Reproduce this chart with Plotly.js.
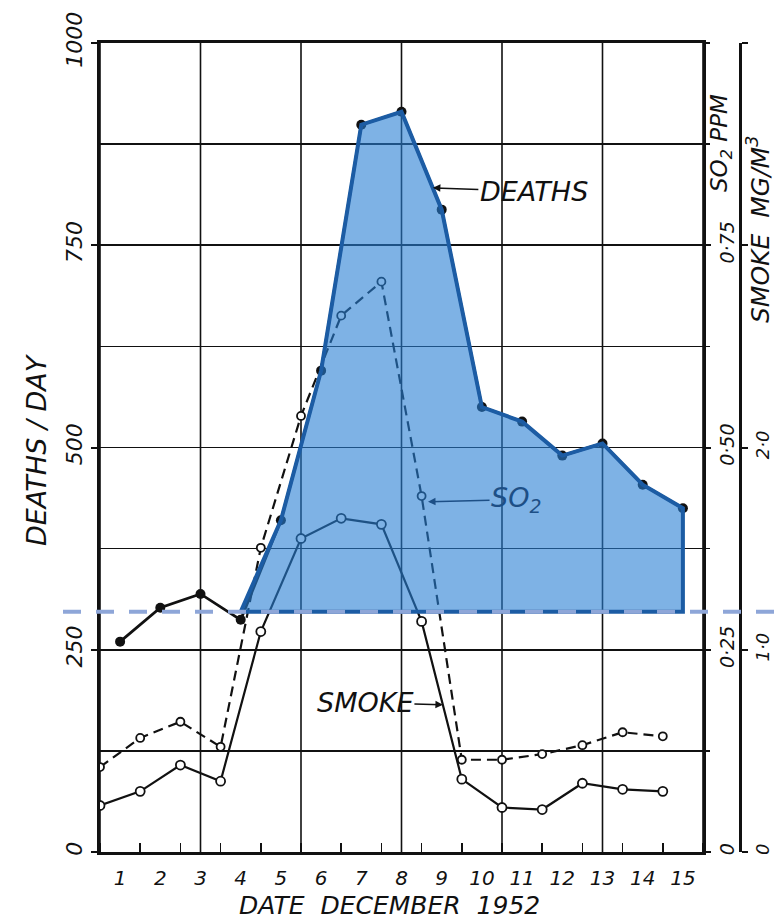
<!DOCTYPE html>
<html>
<head>
<meta charset="utf-8">
<script src="https://cdn.plot.ly/plotly-3.0.1.min.js"></script>
<style>html,body{margin:0;padding:0;background:#fff;}#chart{width:782px;height:924px;}</style>
</head>
<body>
<div id="chart"></div>
<script>
// ---- data ----
const days = [1,2,3,4,5,6,7,8,9,10,11,12,13,14,15];
const dayLabels = ['1','2','3','4','5','6','7','8','9','10','11','12','13','14','15'];
const deaths = [260, 302, 319, 287, 410, 595, 899, 915, 794, 550, 532, 490, 505, 454, 425];
const so2ppm = [0.105, 0.141, 0.161, 0.130, 0.376, 0.539, 0.663, 0.705, 0.440, 0.114, 0.114, 0.121, 0.132, 0.148, 0.143];
const smokeMg = [0.23, 0.30, 0.43, 0.35, 1.09, 1.55, 1.65, 1.62, 1.14, 0.36, 0.22, 0.21, 0.34, 0.31, 0.30];
const baselineDeaths = 297;
const gridDays = [1, 3.5, 6, 8.5, 11, 13.5, 16];
const deathTickVals = [0, 250, 500, 750, 1000];
const deathTickText = ['0', '250', '500', '750', '1000'];
const so2TickVals = [0, 0.25, 0.5, 0.75];
const so2TickText = ['0', '0·25', '0·50', '0·75'];
const smokeTickVals = [0, 1, 2];
const smokeTickText = ['0', '1·0', '2·0'];

// deaths are plotted mid-day, pollution at start of day
const deathX = days.map(d => d + 0.5);
const labelX = days.map(d => d + 0.5);

// excess-deaths polygon (from day 4 onward, above baseline)
const startIdx = 3;
const polyX = [deathX[startIdx]].concat(deathX.slice(startIdx + 1), [deathX[deathX.length - 1], deathX[startIdx]]);
const polyY = [baselineDeaths].concat(deaths.slice(startIdx + 1), [baselineDeaths, baselineDeaths]);

const FONT = 'DejaVu Sans';
const ink = '#111';
const W = 782, H = 924, L = 100, R = 20, T = 43, B = 72;
const plotW = W - L - R;            // paper width in px
const xDomEnd = 603 / plotW;        // x axis ends at the SO2 axis
const px = v => (v - L) / plotW;    // px -> paper x
const py = v => (H - B - v) / (H - T - B); // px -> paper y

const traces = [
  {x: deathX, y: deaths, xaxis: 'x', yaxis: 'y', mode: 'lines+markers',
   line: {color: ink, width: 2.8}, marker: {color: ink, size: 10, symbol: 'circle'}, hoverinfo: 'skip'},
  {x: days, y: so2ppm, xaxis: 'x', yaxis: 'y2', mode: 'lines+markers',
   line: {color: ink, width: 2.2, dash: '10px,6px'},
   marker: {color: '#fff', size: 8, symbol: 'circle', line: {color: ink, width: 1.8}}, hoverinfo: 'skip'},
  {x: days, y: smokeMg, xaxis: 'x', yaxis: 'y3', mode: 'lines+markers',
   line: {color: ink, width: 2.2},
   marker: {color: '#fff', size: 9, symbol: 'circle', line: {color: ink, width: 1.8}}, hoverinfo: 'skip'},
  {x: polyX, y: polyY, xaxis: 'x', yaxis: 'y4', mode: 'lines', fill: 'toself',
   fillcolor: 'rgba(40,126,212,0.60)', line: {color: '#1c5ca4', width: 4}, hoverinfo: 'skip'}
];

const tickFont = {family: FONT, size: 22, color: ink, style: 'italic'};
const rightTickFont = {family: FONT, size: 19, color: ink, style: 'italic'};

const shapes = gridDays.map(g => ({
  type: 'line', xref: 'x', yref: 'paper', x0: g, x1: g, y0: 0, y1: 1,
  line: {color: ink, width: 1.6}, layer: 'below'
}));
shapes.push({type: 'line', xref: 'paper', yref: 'y', x0: px(63), x1: px(782),
  y0: baselineDeaths, y1: baselineDeaths,
  line: {color: '#8ea6d8', width: 4, dash: '18px,15px'}, layer: 'above'});

const layout = {
  width: W, height: H,
  margin: {l: L, r: R, t: T, b: B},
  paper_bgcolor: '#fff', plot_bgcolor: '#fff',
  showlegend: false,
  font: {family: FONT, color: ink, style: 'italic'},
  xaxis: {
    domain: [0, xDomEnd],
    range: [1, 16], tickmode: 'array', tickvals: labelX, ticktext: dayLabels,
    ticks: '', showgrid: false, zeroline: false,
    showline: true, linecolor: ink, linewidth: 3, mirror: true,
    tickfont: {family: FONT, size: 20, color: ink, style: 'italic'}, ticklabelstandoff: 6,
    minor: {tick0: 1, dtick: 1, ticks: 'inside', ticklen: 9, tickwidth: 1.6, tickcolor: ink, showgrid: false}
  },
  yaxis: {
    range: [0, 1000], tickmode: 'array', tickvals: deathTickVals, ticktext: deathTickText,
    ticks: 'outside', ticklen: 6, tickwidth: 2, tickcolor: ink,
    tickangle: -90, tickfont: tickFont,
    showgrid: true, gridcolor: ink, gridwidth: 1.7,
    minor: {tick0: 0, dtick: 125, showgrid: true, gridcolor: ink, gridwidth: 1.7, ticks: ''},
    zeroline: false, showline: true, linecolor: ink, linewidth: 3
  },
  yaxis2: {
    overlaying: 'y', side: 'right', anchor: 'x', range: [0, 1],
    tickmode: 'array', tickvals: so2TickVals, ticktext: so2TickText,
    ticks: 'outside', ticklen: 5, tickwidth: 2, tickcolor: ink,
    tickangle: -90, tickfont: rightTickFont,
    minor: {tick0: 0, dtick: 0.125, ticks: 'outside', ticklen: 4, tickwidth: 1.5, tickcolor: ink},
    showgrid: false, zeroline: false, showline: true, linecolor: ink, linewidth: 3
  },
  yaxis3: {
    overlaying: 'y', side: 'right', anchor: 'free', position: px(740), range: [0, 4],
    tickmode: 'array', tickvals: smokeTickVals, ticktext: smokeTickText,
    ticks: 'outside', ticklen: 5, tickwidth: 2, tickcolor: ink,
    tickangle: -90, tickfont: {family: FONT, size: 18, color: ink, style: 'italic'},
    minor: {tick0: 0, dtick: 1, ticks: 'outside', ticklen: 6, tickwidth: 2, tickcolor: ink},
    showgrid: false, zeroline: false, showline: true, linecolor: ink, linewidth: 3
  },
  yaxis4: {overlaying: 'y', range: [0, 1000], visible: false},
  shapes: shapes,
  annotations: [
    {xref: 'paper', yref: 'paper', x: px(36), y: py(450), xanchor: 'center', yanchor: 'middle',
     text: 'DEATHS / DAY', textangle: -90,
     showarrow: false, font: {family: FONT, size: 27, color: ink, style: 'italic'}},
    {xref: 'paper', yref: 'paper', x: px(389), y: py(906), xanchor: 'center', yanchor: 'middle',
     text: 'DATE  DECEMBER  1952',
     showarrow: false, font: {family: FONT, size: 25, color: ink, style: 'italic'}},
    {xref: 'paper', yref: 'paper', x: px(721), y: py(143), xanchor: 'center', yanchor: 'middle',
     text: 'SO<sub>2</sub> PPM', textangle: -90,
     showarrow: false, font: {family: FONT, size: 23, color: ink, style: 'italic'}},
    {xref: 'paper', yref: 'paper', x: px(758), y: py(230), xanchor: 'center', yanchor: 'middle',
     text: 'SMOKE  MG/M<sup>3</sup>', textangle: -90,
     showarrow: false, font: {family: FONT, size: 25, color: ink, style: 'italic'}},
    {xref: 'x', yref: 'y', x: 9.28, y: 821, ax: 101, ay: 4, text: 'DEATHS',
     showarrow: true, arrowhead: 2, arrowsize: 1, arrowwidth: 1.5, arrowcolor: ink,
     font: {family: FONT, size: 27, color: ink, style: 'italic'}},
    {xref: 'x', yref: 'y', x: 9.16, y: 433, ax: 88, ay: -2, text: 'SO<sub>2</sub>',
     showarrow: true, arrowhead: 2, arrowsize: 1, arrowwidth: 1.5, arrowcolor: '#1d4f86',
     font: {family: FONT, size: 27, color: '#1d4f86', style: 'italic'}},
    {xref: 'x', yref: 'y', x: 9.53, y: 182, ax: -78, ay: -2, text: 'SMOKE',
     showarrow: true, arrowhead: 2, arrowsize: 1, arrowwidth: 1.5, arrowcolor: ink,
     font: {family: FONT, size: 27, color: ink, style: 'italic'}}
  ]
};

Plotly.newPlot('chart', traces, layout, {staticPlot: true, displayModeBar: false});
</script>
</body>
</html>
